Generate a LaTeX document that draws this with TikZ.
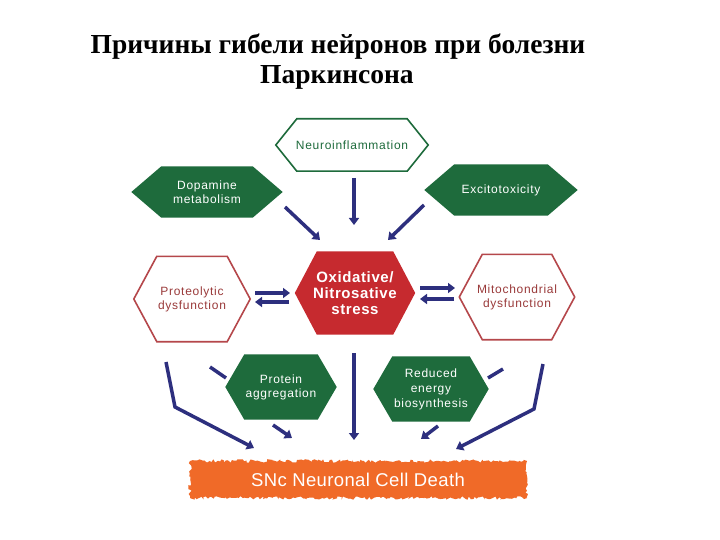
\documentclass[tikz,border=0pt]{standalone}
\usepackage{fontspec}
\setmainfont{Liberation Serif}
\newfontfamily\lab[LetterSpace=6]{Liberation Sans}
\newfontfamily\labb[LetterSpace=4]{Liberation Sans}
\newfontfamily\labsnc[LetterSpace=2]{Liberation Sans}
\usetikzlibrary{arrows.meta,backgrounds,decorations.pathmorphing}
\definecolor{hgreen}{HTML}{1E6B3C}
\definecolor{hred}{HTML}{C62A2F}
\definecolor{hredline}{HTML}{B5474B}
\definecolor{hredtext}{HTML}{9A3A3A}
\definecolor{horange}{HTML}{F06A28}
\definecolor{hnavy}{HTML}{2D2F7E}
\newcommand\hexpath[2]{(#1.west) -- ([xshift=#2]#1.north west) -- ([xshift=-#2]#1.north east) -- (#1.east) -- ([xshift=-#2]#1.south east) -- ([xshift=#2]#1.south west) -- cycle}
\tikzset{
  hexnode/.style={inner sep=0pt, align=center, font=\lab\fontsize{12}{14}\selectfont},
  arr/.style={hnavy, line width=3.5pt, -{Triangle[length=7pt,width=10pt]}},
  seg/.style={hnavy, line width=3.5pt},
  titletext/.style={font=\fontsize{27.5}{30}\selectfont\bfseries}
}
\begin{document}
\begin{tikzpicture}[x=1pt,y=-1pt]
\useasboundingbox (0,0) rectangle (720,540);

% title
\node[titletext] (t1) at (338,47) {Причины гибели нейронов при болезни};
\node[titletext] (t2) at (337,77) {Паркинсона};

% nodes
\node[hexnode, minimum width=152pt, minimum height=52pt, text=hgreen] (neuro) at (352,145) {Neuroinflammation};
\node[hexnode, minimum width=151pt, minimum height=51pt, text=white] (dopa) at (207,192) {Dopamine\\metabolism};
\node[hexnode, minimum width=153pt, minimum height=51pt, text=white] (excit) at (501,190) {Excitotoxicity};
\node[hexnode, minimum width=120pt, minimum height=83pt, text=white, font=\labb\fontsize{15}{16}\selectfont\bfseries] (oxid) at (355,293) {Oxidative/\\Nitrosative\\stress};
\node[hexnode, minimum width=116pt, minimum height=85pt, text=hredtext] (prot) at (192,299) {Proteolytic\\dysfunction};
\node[hexnode, minimum width=115pt, minimum height=85pt, text=hredtext] (mito) at (517,297) {Mitochondrial\\dysfunction};
\node[hexnode, minimum width=111pt, minimum height=65pt, text=white] (aggr) at (281,387) {Protein\\aggregation};
\node[hexnode, minimum width=115pt, minimum height=65pt, text=white, font=\lab\fontsize{12}{15}\selectfont] (redu) at (431,389) {Reduced\\energy\\biosynthesis};
\node[inner sep=0pt, minimum width=337pt, minimum height=38pt, text=white, font=\labsnc\fontsize{18.5}{22}\selectfont] (snc) at (358,480) {SNc Neuronal Cell Death};

\begin{scope}[on background layer]
  \fill[white] (0,0) rectangle (720,540);
  \draw[hgreen, line width=1.6pt, fill=white] \hexpath{neuro}{21pt};
  \fill[hgreen] \hexpath{dopa}{30pt};
  \fill[hgreen] \hexpath{excit}{30pt};
  \fill[hred] \hexpath{oxid}{22pt};
  \draw[hredline, line width=1.6pt, fill=white] \hexpath{prot}{23pt};
  \draw[hredline, line width=1.6pt, fill=white] \hexpath{mito}{23pt};
  \fill[horange, decorate, decoration={random steps, segment length=2pt, amplitude=1.8pt}] (190,461) rectangle (527,498);
  % hidden arrow stubs under the lower hexagons
  \draw[seg] (210,367) -- (226,378);
  \draw[seg] (503,369) -- (488,378);
  \fill[hgreen] \hexpath{aggr}{19pt};
  \fill[hgreen] \hexpath{redu}{19pt};
\end{scope}

% connector end points
\coordinate (n1) at (354,178);   \coordinate (n2) at (354,225);
\coordinate (d1) at (285,207);   \coordinate (d2) at (320,240);
\coordinate (e1) at (424,205);   \coordinate (e2) at (388,240);
\coordinate (pl1) at (255,293);  \coordinate (pl2) at (290,293);
\coordinate (pl3) at (289,302);  \coordinate (pl4) at (255,302);
\coordinate (mr1) at (420,288);  \coordinate (mr2) at (455,288);
\coordinate (mr3) at (454,299);  \coordinate (mr4) at (420,299);
\coordinate (c1) at (354,353);   \coordinate (c2) at (354,440);
\coordinate (l1) at (166,362);   \coordinate (l2) at (175,407);   \coordinate (l3) at (254,448);
\coordinate (r1) at (543,364);   \coordinate (r2) at (534,409);   \coordinate (r3) at (456,449);
\coordinate (a1) at (273,425);   \coordinate (a2) at (292,438);
\coordinate (b1) at (438,426);   \coordinate (b2) at (421,439);

\draw[arr] (n1) -- (n2);
\draw[arr] (d1) -- (d2);
\draw[arr] (e1) -- (e2);
\draw[arr] (pl1) -- (pl2);
\draw[arr] (pl3) -- (pl4);
\draw[arr] (mr1) -- (mr2);
\draw[arr] (mr3) -- (mr4);
\draw[arr] (c1) -- (c2);
\draw[arr] (l1) -- (l2) -- (l3);
\draw[arr] (r1) -- (r2) -- (r3);
\draw[arr] (a1) -- (a2);
\draw[arr] (b1) -- (b2);
\end{tikzpicture}
\end{document}
